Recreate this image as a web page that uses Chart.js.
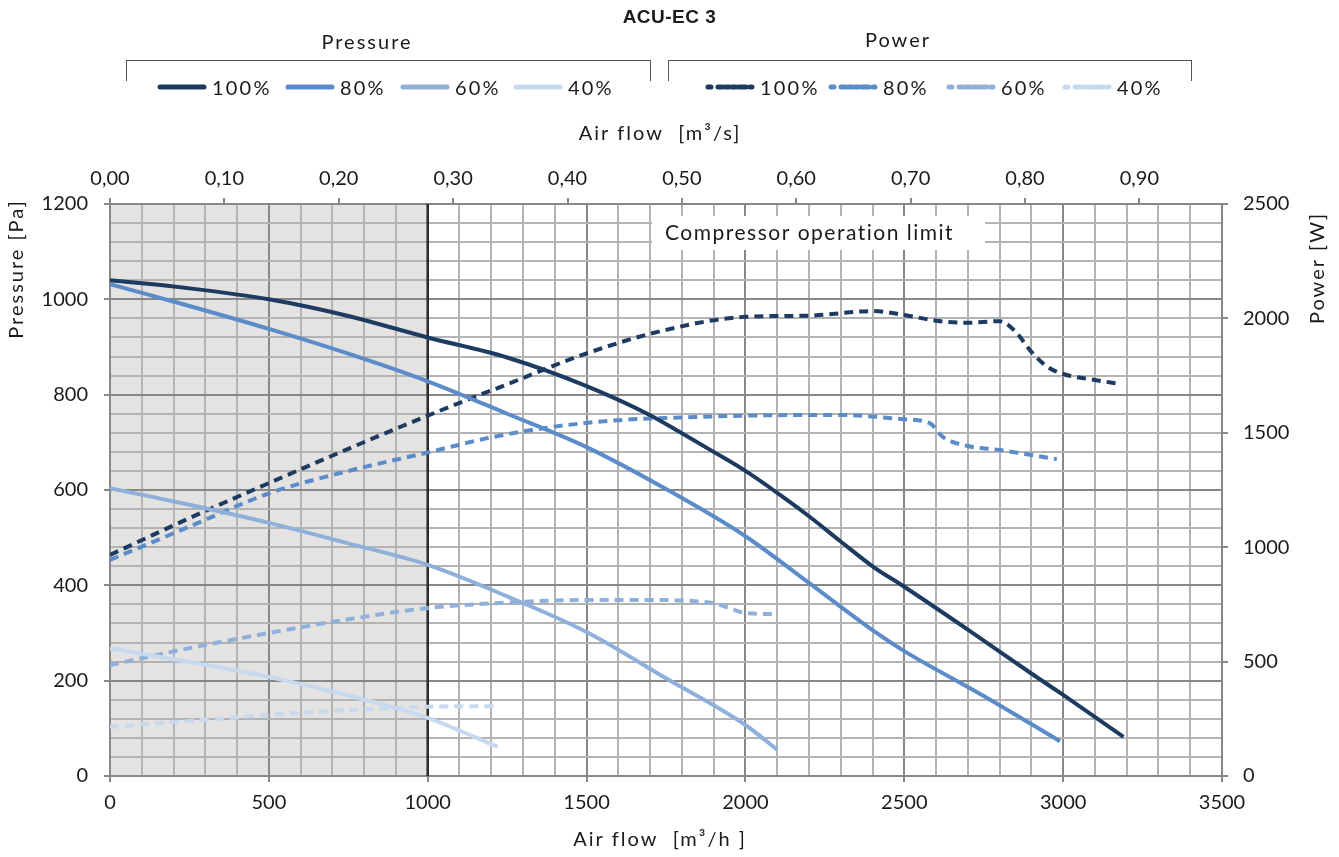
<!DOCTYPE html>
<html>
<head>
<meta charset="utf-8">
<script src="https://cdn.jsdelivr.net/npm/chart.js@4.4.1/dist/chart.umd.min.js"></script>
<style>
  body { margin: 0; background: #fff; }
  #wrap { position: relative; width: 1339px; height: 857px; font-family: Lato, sans-serif; color: #1a1a1a; }
  #wrap canvas { position: absolute; left: 0; top: 0; }
  .abs { position: absolute; white-space: nowrap; }
  .title { font-family: "Liberation Sans", Arial, sans-serif; font-weight: bold; font-size: 19px; letter-spacing: 0.5px; left: 0; width: 1339px; text-align: center; top: 6px; }
  .grp { font-size: 20px; letter-spacing: 2px; transform: translateX(-50%); }
  .bracket { border: 1px solid #555; border-bottom: none; height: 20px; top: 60px; }
  .item { top: 75px; height: 24px; display: flex; align-items: center; font-size: 20px; letter-spacing: 2.2px; }
  .item svg { margin-right: 5px; }
</style>
</head>
<body>
<div id="wrap">
  <canvas id="fanChart" width="1339" height="857"></canvas>
  <div class="abs title">ACU-EC 3</div>
  <div class="abs grp" style="left:367px; top:29px;">Pressure</div>
  <div class="abs grp" style="left:898px; top:27px;">Power</div>
  <div class="abs bracket" style="left:126px; width:523px;"></div>
  <div class="abs bracket" style="left:668px; width:522px;"></div>
  <div id="legend"></div>
</div>
<script>
// air flow [m3/h] vs pressure [Pa] / power [W]
const speeds = ['100%', '80%', '60%', '40%'];
const colors = ['#1d3a60', '#5b8bc9', '#8fb0da', '#c6d9ef'];

const p100x = [0, 250, 500, 750, 1000, 1250, 1500, 1700, 1800, 1900, 2000, 2100, 2200, 2300, 2400, 2500, 2700, 2900, 3000, 3190];
const p100y = [1040, 1023, 1000, 965, 920, 878, 818, 757, 719, 680, 640, 594, 545, 492, 440, 397, 307, 215, 170, 82];
const p80x = [0, 250, 500, 750, 1000, 1250, 1500, 1750, 2000, 2200, 2400, 2500, 2750, 2990];
const p80y = [1032, 986, 938, 886, 828, 760, 690, 602, 503, 405, 306, 262, 168, 73];
const p60x = [0, 250, 500, 750, 1000, 1250, 1500, 1750, 2000, 2100];
const p60y = [604, 569, 531, 488, 443, 377, 302, 205, 107, 55];
const p40x = [0, 250, 500, 750, 1000, 1220];
const p40y = [268, 239, 208, 169, 122, 61];

const w100x = [0, 250, 500, 750, 1000, 1250, 1500, 1750, 2000, 2200, 2400, 2500, 2600, 2700, 2800, 2850, 2900, 2950, 3000, 3100, 3180];
const w100y = [966, 1127, 1280, 1430, 1575, 1712, 1847, 1950, 2007, 2012, 2032, 2015, 1990, 1981, 1988, 1942, 1854, 1789, 1757, 1731, 1713];
const w80x = [0, 250, 500, 750, 1000, 1200, 1400, 1600, 1800, 2000, 2300, 2500, 2580, 2620, 2700, 2800, 2900, 2980];
const w80y = [944, 1090, 1235, 1333, 1414, 1480, 1527, 1555, 1567, 1575, 1578, 1559, 1542, 1483, 1442, 1425, 1403, 1385];
const w60x = [0, 250, 500, 750, 1000, 1250, 1500, 1750, 1850, 1900, 1950, 2000, 2100];
const w60y = [485, 559, 625, 685, 734, 758, 769, 769, 763, 755, 734, 712, 707];
const w40x = [0, 250, 500, 750, 1000, 1220];
const w40y = [215, 240, 267, 288, 303, 305];

const xMax = 3500;
const pMax = 1200;
const wMax = 2500;
const limitFlow = 1000;

const gridMinor = '#b3b3b3';
const gridMajor = '#888888';
const font = { family: 'Lato, sans-serif', size: 20 };

function pts(xs, ys) {
  return xs.map((x, i) => ({ x: x, y: ys[i] }));
}

const pressure = [[p100x, p100y], [p80x, p80y], [p60x, p60y], [p40x, p40y]];
const power = [[w100x, w100y], [w80x, w80y], [w60x, w60y], [w40x, w40y]];

const datasets = [];
pressure.forEach((s, i) => datasets.push({
  label: 'Pressure ' + speeds[i], data: pts(s[0], s[1]), yAxisID: 'y',
  borderColor: colors[i], borderWidth: 4, pointRadius: 0, cubicInterpolationMode: 'monotone'
}));
power.forEach((s, i) => datasets.push({
  label: 'Power ' + speeds[i], data: pts(s[0], s[1]), yAxisID: 'y2',
  borderColor: colors[i], borderWidth: 4, borderDash: [9, 6], pointRadius: 0, cubicInterpolationMode: 'monotone'
}));

// legend rows (html)
const legend = document.getElementById('legend');
const pressLeft = [157, 285, 400, 513];
const powLeft = [705, 828, 946, 1062];
speeds.forEach((s, i) => {
  legend.insertAdjacentHTML('beforeend',
    `<div class="abs item" style="left:${pressLeft[i]}px"><svg width="50" height="8"><line x1="3" y1="4" x2="47" y2="4" stroke="${colors[i]}" stroke-width="5" stroke-linecap="round"/></svg>${s}</div>`);
  legend.insertAdjacentHTML('beforeend',
    `<div class="abs item" style="left:${powLeft[i]}px"><svg width="50" height="8"><line x1="3" y1="4" x2="47" y2="4" stroke="${colors[i]}" stroke-width="5" stroke-linecap="round" stroke-dasharray="3 7 4 3 4 3 4"/></svg>${s}</div>`);
});

const decor = {
  id: 'decor',
  beforeDraw(chart) {
    const { ctx, chartArea: a, scales: { x } } = chart;
    ctx.save();
    ctx.fillStyle = '#e4e3e1';
    ctx.fillRect(a.left, a.top, x.getPixelForValue(limitFlow) - a.left, a.bottom - a.top);
    ctx.restore();
  },
  beforeDatasetsDraw(chart) {
    const { ctx, chartArea: a, scales: { x } } = chart;
    const lx = x.getPixelForValue(limitFlow);
    ctx.save();
    ctx.strokeStyle = '#2a2a2a';
    ctx.lineWidth = 2.5;
    ctx.beginPath();
    ctx.moveTo(lx, a.top);
    ctx.lineTo(lx, a.bottom);
    ctx.stroke();
    ctx.fillStyle = '#ffffff';
    ctx.fillRect(652, 216, 333, 34);
    ctx.fillStyle = '#1a1a1a';
    ctx.font = '21px Lato, sans-serif';
    ctx.letterSpacing = '1.5px';
    ctx.textBaseline = 'middle';
    ctx.fillText('Compressor operation limit', 665, 233);
    ctx.restore();
  },
  afterDraw(chart) {
    const ctx = chart.ctx;
    ctx.save();
    ctx.fillStyle = '#1a1a1a';
    ctx.font = '20px Lato, sans-serif';
    ctx.letterSpacing = '2px';
    ctx.textBaseline = 'middle';
    ctx.textAlign = 'center';
    ctx.fillText('Air flow  [m³/s]', 660, 134);
    ctx.fillText('Air flow  [m³/h ]', 660, 840);
    ctx.translate(17, 269);
    ctx.rotate(-Math.PI / 2);
    ctx.fillText('Pressure [Pa]', 0, 0);
    ctx.restore();
    ctx.save();
    ctx.fillStyle = '#1a1a1a';
    ctx.font = '20px Lato, sans-serif';
    ctx.letterSpacing = '2px';
    ctx.textBaseline = 'middle';
    ctx.textAlign = 'center';
    ctx.translate(1318, 268);
    ctx.rotate(-Math.PI / 2);
    ctx.fillText('Power [W]', 0, 0);
    ctx.restore();
  }
};

new Chart(document.getElementById('fanChart'), {
  type: 'line',
  data: { datasets: datasets },
  plugins: [decor],
  options: {
    responsive: false,
    animation: false,
    layout: { padding: { top: 110 } },
    plugins: { legend: { display: false }, tooltip: { enabled: false } },
    scales: {
      x: {
        type: 'linear', position: 'bottom', min: 0, max: xMax,
        afterFit: s => { s.height = 81; },
        border: { color: gridMajor, width: 2 },
        grid: {
          lineWidth: 2, tickLength: 6,
          color: c => (c.tick && c.tick.value % 500 === 0) ? gridMajor : gridMinor,
          tickColor: c => (c.tick && c.tick.value % 500 === 0) ? gridMajor : 'rgba(0,0,0,0)'
        },
        ticks: { stepSize: 100, autoSkip: false, maxRotation: 0, padding: 9, color: '#1a1a1a', font: font,
          callback: v => v % 500 === 0 ? String(v) : '' }
      },
      x2: {
        type: 'linear', position: 'top', min: 0, max: xMax / 3600,
        afterFit: s => { s.height = 94; },
        border: { color: gridMajor, width: 2 },
        grid: { drawOnChartArea: false, tickLength: 6, color: gridMajor, lineWidth: 2 },
        ticks: { stepSize: 0.1, includeBounds: false, autoSkip: false, maxRotation: 0, padding: 7, color: '#1a1a1a', font: font,
          callback: v => v.toFixed(2).replace('.', ',') }
      },
      y: {
        position: 'left', min: 0, max: pMax,
        afterFit: s => { s.width = 110; },
        border: { color: gridMajor, width: 2 },
        grid: {
          lineWidth: 2, tickLength: 6,
          color: c => (c.tick && c.tick.value % 200 === 0) ? gridMajor : gridMinor,
          tickColor: c => (c.tick && c.tick.value % 200 === 0) ? gridMajor : 'rgba(0,0,0,0)'
        },
        ticks: { stepSize: 40, autoSkip: false, padding: 16, color: '#1a1a1a', font: font,
          callback: v => v % 200 === 0 ? String(v) : '' }
      },
      y2: {
        position: 'right', min: 0, max: wMax,
        afterFit: s => { s.width = 117; },
        border: { color: gridMajor, width: 2 },
        grid: { drawOnChartArea: false, tickLength: 6, color: gridMajor, lineWidth: 2 },
        ticks: { stepSize: 500, padding: 15, color: '#1a1a1a', font: font, callback: v => String(v) }
      }
    }
  }
});
</script>
</body>
</html>
